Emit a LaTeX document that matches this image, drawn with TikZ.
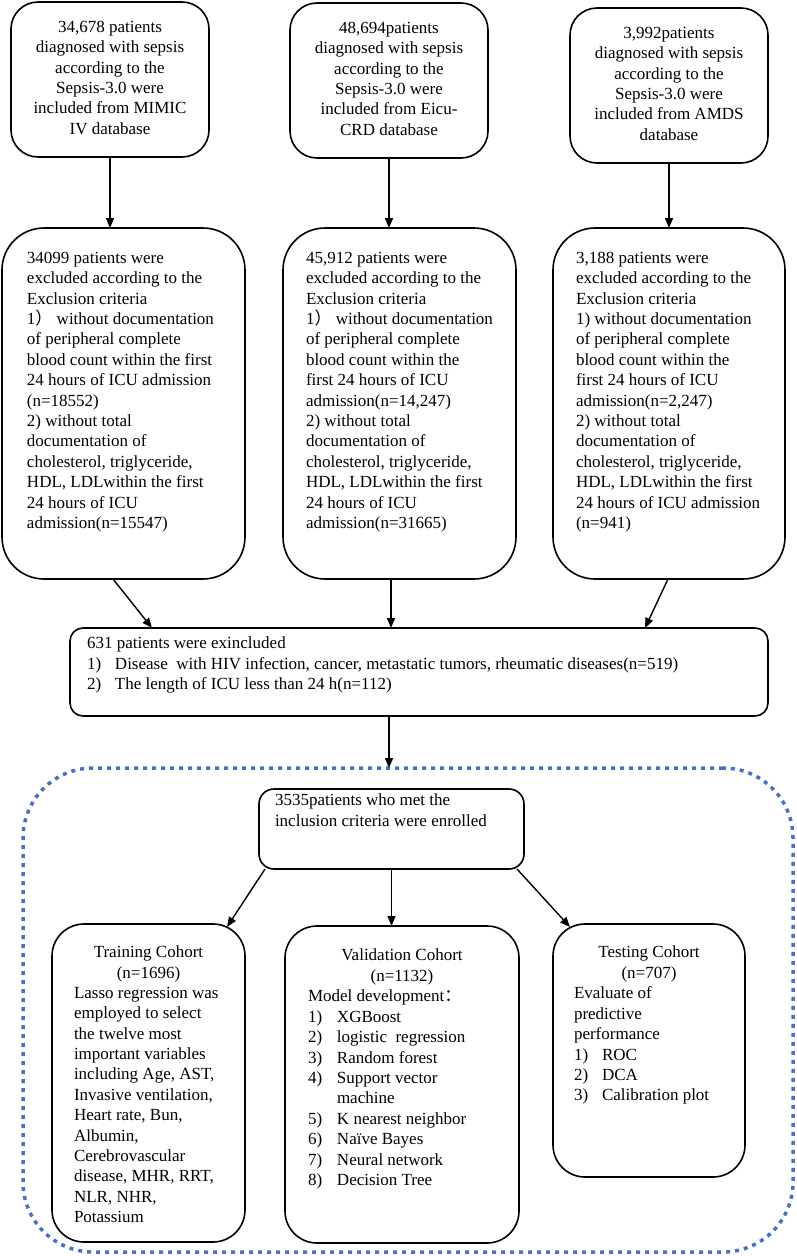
\documentclass[tikz,border=0pt]{standalone}
\usepackage{fontspec}
\setmainfont{Liberation Serif}
\newfontfamily\cjk{Noto Sans CJK SC}
\usetikzlibrary{arrows.meta,calc}
\definecolor{dotblue}{RGB}{68,114,196}
\begin{document}
\begin{tikzpicture}[x=1pt,y=-1pt,
  every node/.style={font=\fontsize{17}{20.4}\selectfont},
  box/.style={draw, line width=1.6pt, rounded corners=#1, inner sep=0pt, outer sep=0pt},
  box/.default=12pt,
  txt/.style={inner sep=0pt, outer sep=0pt, align=left, anchor=north west},
  ctxt/.style={inner sep=0pt, outer sep=0pt, align=center, anchor=north},
  arr/.style={line width=1.4pt, -{Triangle[length=10pt,width=8pt]}},
  dotbox/.style={draw=dotblue, line width=3.5pt, dash pattern=on 4pt off 5pt, rounded corners=70pt, inner sep=0pt, outer sep=0pt}
]
\useasboundingbox (0,0) rectangle (797,1256);

% dotted enrolment frame
\node[dotbox, minimum width=770pt, minimum height=484pt] (enr) at (408,1010) {};

% top row
\node[box=27pt, minimum width=198pt, minimum height=155pt] (s1) at (110,79.5) {};
\node[ctxt] (s1t) at (110,21) {34,678 patients\\diagnosed with sepsis\\according to the\\Sepsis-3.0 were\\included from MIMIC\\IV database};
\node[box=27pt, minimum width=198pt, minimum height=155pt] (s2) at (389,80.5) {};
\node[ctxt] (s2t) at (389,22) {48,694patients\\diagnosed with sepsis\\according to the\\Sepsis-3.0 were\\included from Eicu-\\CRD database};
\node[box=27pt, minimum width=198pt, minimum height=155pt] (s3) at (669,85.5) {};
\node[ctxt] (s3t) at (669,27) {3,992patients\\diagnosed with sepsis\\according to the\\Sepsis-3.0 were\\included from AMDS\\database};

% middle row
\node[box=42pt, minimum width=243pt, minimum height=351pt] (mA) at (123.5,403.5) {};
\node[txt] (mAt) at (27,252) {34099 patients were\\excluded according to the\\Exclusion criteria\\1{\cjk ）} without documentation\\of peripheral complete\\blood count within the first\\24 hours of ICU admission\\(n=18552)\\2) without total\\documentation of\\cholesterol, triglyceride,\\HDL, LDLwithin the first\\24 hours of ICU\\admission(n=15547)};
\node[box=42pt, minimum width=233pt, minimum height=351pt] (mB) at (399.5,403.5) {};
\node[txt] (mBt) at (306,252) {45,912 patients were\\excluded according to the\\Exclusion criteria\\1{\cjk ）} without documentation\\of peripheral complete\\blood count within the\\first 24 hours of ICU\\admission(n=14,247)\\2) without total\\documentation of\\cholesterol, triglyceride,\\HDL, LDLwithin the first\\24 hours of ICU\\admission(n=31665)};
\node[box=42pt, minimum width=232pt, minimum height=351pt] (mC) at (669,403.5) {};
\node[txt] (mCt) at (576,252) {3,188 patients were\\excluded according to the\\Exclusion criteria\\1) without documentation\\of peripheral complete\\blood count within the\\first 24 hours of ICU\\admission(n=2,247)\\2) without total\\documentation of\\cholesterol, triglyceride,\\HDL, LDLwithin the first\\24 hours of ICU admission\\(n=941)};

% exclusion box
\node[box=13pt, minimum width=698pt, minimum height=88pt] (ex) at (419,672) {};
\node[txt] (ext) at (87,637) {631 patients were exincluded\\\makebox[28pt][l]{1)}Disease~ with HIV infection, cancer, metastatic tumors, rheumatic diseases(n=519)\\\makebox[28pt][l]{2)}The length of ICU less than 24 h(n=112)};

% inclusion box
\node[box=15pt, minimum width=265pt, minimum height=80pt] (inc) at (391.5,829) {};
\node[txt] (inct) at (275,794) {3535patients who met the\\inclusion criteria were enrolled};

% cohorts
\node[box=32pt, minimum width=193pt, minimum height=318pt] (tr) at (148.5,1083) {};
\node[ctxt] (trh) at (148.5,946) {Training Cohort\\(n=1696)};
\node[txt] (trt) at (74,987) {Lasso regression was\\employed to select\\the twelve most\\important variables\\including Age, AST,\\Invasive ventilation,\\Heart rate, Bun,\\Albumin,\\Cerebrovascular\\disease, MHR, RRT,\\NLR, NHR,\\Potassium};

\node[box=32pt, minimum width=234pt, minimum height=317pt] (va) at (402,1084.5) {};
\node[ctxt] (vah) at (402,949) {Validation Cohort\\(n=1132)};
\node[txt] (vat) at (308,990) {Model development{\cjk ：}\\\makebox[29pt][l]{1)}XGBoost\\\makebox[29pt][l]{2)}logistic~ regression\\\makebox[29pt][l]{3)}Random forest\\\makebox[29pt][l]{4)}Support vector\\\hspace*{29pt}machine\\\makebox[29pt][l]{5)}K nearest neighbor\\\makebox[29pt][l]{6)}Naïve Bayes\\\makebox[29pt][l]{7)}Neural network\\\makebox[29pt][l]{8)}Decision Tree};

\node[box=32pt, minimum width=192pt, minimum height=253pt] (te) at (649,1050.5) {};
\node[ctxt] (teh) at (649,946) {Testing Cohort\\(n=707)};
\node[txt] (tet) at (574,987) {Evaluate of\\predictive\\performance\\\makebox[28pt][l]{1)}ROC\\\makebox[28pt][l]{2)}DCA\\\makebox[28pt][l]{3)}Calibration plot};

% connectors
\draw[arr] (s1.south) -- (s1.south |- mA.north);
\draw[arr] (s2.south) -- (s2.south |- mB.north);
\draw[arr] (s3.south) -- (mC.north);
\draw[arr] ($(mA.south)+(-10.5,0)$) -- ($(ex.north west)+(82,0)$);
\draw[arr] ($(mB.south)+(-8.5,0)$) -- ($(ex.north west)+(321,0)$);
\draw[arr] ($(mC.south)+(-1,0)$) -- ($(ex.north west)+(575,0)$);
\draw[arr] ($(ex.south west)+(319,0)$) -- ($(enr.north west)+(366,0)$);
\draw[arr] ($(inc.south west)+(6,0)$) -- ($(tr.north west)+(175,3)$);
\draw[arr] (inc.south) -- (inc.south |- va.north);
\draw[arr] ($(inc.south east)+(-7,0)$) -- ($(te.north west)+(17,3)$);
\end{tikzpicture}
\end{document}
